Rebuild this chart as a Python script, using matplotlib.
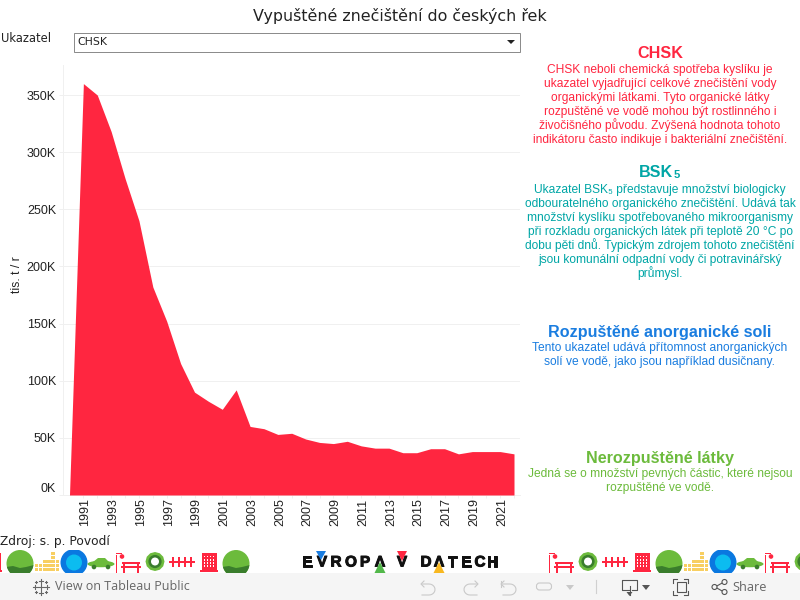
import matplotlib
matplotlib.use("Agg")
import matplotlib.pyplot as plt
from matplotlib.patches import Circle, Rectangle, Polygon, FancyBboxPatch, Ellipse, RegularPolygon
from matplotlib.transforms import ScaledTranslation
import matplotlib.patheffects as pe
import numpy as np

years = list(range(1990, 2023))
values = [0, 360, 350, 318, 277, 240, 182, 152, 115, 90, 82, 75, 92, 60, 58, 53, 54,
          49, 46, 45, 47, 43, 41, 41, 37, 37, 40.5, 40.5, 36, 38, 38, 38, 36]
y_ticks = [0, 50, 100, 150, 200, 250, 300, 350]
x_labels = list(range(1991, 2022, 2))

title = "Vypuštěné znečištění do českých řek"
source = "Zdroj: s. p. Povodí"
chsk_lines = ["CHSK neboli chemická spotřeba kyslíku je",
              "ukazatel vyjadřující celkové znečištění vody",
              "organickými látkami. Tyto organické látky",
              "rozpuštěné ve vodě mohou být rostlinného i",
              "živočišného původu. Zvýšená hodnota tohoto",
              "indikátoru často indikuje i bakteriální znečištění."]
bsk_lines = ["Ukazatel BSK₅ představuje množství biologicky",
             "odbouratelného organického znečištění. Udává tak",
             "množství kyslíku spotřebovaného mikroorganismy",
             "při rozkladu organických látek při teplotě 20 °C po",
             "dobu pěti dnů. Typickým zdrojem tohoto znečištění",
             "jsou komunální odpadní vody či potravinářský",
             "průmysl."]
soli_lines = ["Tento ukazatel udává přítomnost anorganických",
              "solí ve vodě, jako jsou například dusičnany."]
nerozp_lines = ["Jedná se o množství pevných částic, které nejsou",
                "rozpuštěné ve vodě."]

RED = "#ff2640"
TEAL = "#00a6a6"
BLUE = "#1a7de0"
GREEN = "#6cbb3c"
DARKGREEN = "#3a7d2c"
YELLOW = "#f8cf62"
SANS = ["Liberation Sans", "DejaVu Sans"]
VERD = ["DejaVu Sans"]

fig = plt.figure(figsize=(8, 6), dpi=100)

# overlay in pixels for everything that is not the chart
bg = fig.add_axes([0, 0, 1, 1])
bg.set_xlim(0, 800)
bg.set_ylim(600, 0)
bg.axis("off")

# chart axes: x 63-520 px, y 65-495 px
ax = fig.add_axes([63 / 800, 1 - 495 / 600, (520 - 63) / 800, (495 - 65) / 600])
ax.patch.set_alpha(0)
px_year = (500 - 83) / 30
ax.set_xlim(1990 - (69.5 - 63) / px_year, 2022 + (520 - 514) / px_year)
ax.set_ylim(0, 430 / 57.14 * 50)
ax.fill_between(years, values, 0, color=RED, linewidth=0, zorder=3)
ax.set_yticks(y_ticks)
ax.set_yticklabels([f"{v}K" for v in y_ticks], family=SANS, fontsize=9, color="#222222")
ax.set_xticks(years[1:], minor=False)
ax.set_xticklabels([str(y) if y in x_labels else "" for y in years[1:]], rotation=90,
                   family=SANS, fontsize=9, color="#222222")
ax.grid(axis="y", color="#f0f0f0", linewidth=0.72, zorder=0)
ax.tick_params(axis="y", length=3, width=0.72, color="#f0f0f0", pad=2)
ax.tick_params(axis="x", length=2, width=0.72, color="#f0f0f0", pad=0.5)
for s in ["top", "right"]:
    ax.spines[s].set_visible(False)
ax.spines["left"].set_color("#f0f0f0")
ax.spines["bottom"].set_color("#f0f0f0")
ax.spines["left"].set_linewidth(0.72)
ax.spines["bottom"].set_linewidth(0.72)
ax.set_ylabel("tis. t / r", family=SANS, fontsize=8.8, color="#222222")
ax.yaxis.set_label_coords(-40 / 457, (495 - 275) / 430)

# 0K sits above its tick in the original, x labels a bit to the right
lab0 = ax.get_yticklabels()[0]
lab0.set_transform(lab0.get_transform() + ScaledTranslation(0, 7 / 100, fig.dpi_scale_trans))
for lab in ax.get_xticklabels():
    lab.set_transform(lab.get_transform() + ScaledTranslation(2 / 100, 0, fig.dpi_scale_trans))

# title + filter
bg.text(400, 16, title, ha="center", va="center", family=VERD, fontsize=11.45, color="#222222")
bg.text(0.5, 38, "Ukazatel", ha="left", va="center", family=VERD, fontsize=8.3, color="#222222")
bg.add_patch(Rectangle((73.5, 32.5), 446, 19, fc="white", ec="#8c8c8c", lw=0.72))
bg.text(77, 42, "CHSK", ha="left", va="center", family=VERD, fontsize=7.8, color="#222222")
bg.add_patch(Polygon([(507, 40), (515, 40), (511, 44)], fc="#222222", ec="none"))
bg.text(0.5, 542, source, ha="left", va="center", family=VERD, fontsize=8.8, color="#222222")

# text panels on the right
def panel(head, y_head, lines, ys, col):
    bg.text(660, y_head, head, ha="center", va="center", family=SANS, weight="bold",
            fontsize=11.6, color=col)
    for line, y in zip(lines, ys):
        bg.text(660, y + 1.5, line, ha="center", va="center", family=SANS, fontsize=8.67, color=col)

panel("CHSK", 53.5, chsk_lines, [68, 82, 96, 110, 124, 139], RED)
bg.text(673, 172.5, "BSK", ha="right", va="center", family=SANS, weight="bold", fontsize=11.6, color=TEAL)
bg.text(674, 175, "5", ha="left", va="center", family=SANS, weight="bold", fontsize=8, color=TEAL)
panel("", 172, bsk_lines, [188, 202, 216, 230, 244, 258, 272], TEAL)
panel("Rozpuštěné anorganické soli", 332.5, soli_lines, [347, 361], BLUE)
panel("Nerozpuštěné látky", 458.5, nerozp_lines, [473, 487], GREEN)

# icon strip
strip = Rectangle((0, 550), 800, 23, transform=bg.transData)

def clipped(p):
    bg.add_patch(p)
    p.set_clip_path(strip)

def ball(cx):
    clipped(Circle((cx, 563.5), 13.5, fc=GREEN, ec="none"))
    low = Polygon([(cx - 14, 567), (cx - 7, 566), (cx, 568), (cx + 6, 567), (cx + 14, 565),
                   (cx + 14, 578), (cx - 14, 578)], fc=DARKGREEN, ec="none")
    bg.add_patch(low)
    low.set_clip_path(Circle((cx, 563.5), 13.5, transform=bg.transData))

def bars(cx):
    for i, h in enumerate([2, 2, 3, 3, 5, 3]):
        for j in range(h):
            clipped(Rectangle((cx - 12.5 + i * 4.2, 567.5 - j * 3.9), 3.7, 3.4, fc=YELLOW, ec="none"))

def water(cx):
    clipped(Circle((cx, 562.5), 13.5, fc="#0a78e0", ec="none"))
    clipped(Circle((cx, 562.5), 8, fc="#0cbcf0", ec="none"))

def car(cx):
    clipped(Ellipse((cx, 564), 27, 6.5, fc=GREEN, ec="none"))
    clipped(Polygon([(cx - 8, 562), (cx - 3, 558), (cx + 4, 558), (cx + 8, 562)], fc=GREEN, ec="none"))
    clipped(Circle((cx - 7, 567), 2.3, fc=DARKGREEN, ec="none"))
    clipped(Circle((cx + 7, 567), 2.3, fc=DARKGREEN, ec="none"))

def bench(cx):
    clipped(Rectangle((cx - 12.5, 555), 1.6, 18, fc=RED, ec="none"))
    clipped(Rectangle((cx - 12.5, 553), 6, 1.4, fc=RED, ec="none"))
    clipped(Circle((cx - 6, 556.5), 2.3, fc=RED, ec="none"))
    clipped(Rectangle((cx - 6, 562), 18, 2, fc=RED, ec="none"))
    clipped(Rectangle((cx - 7, 566), 20, 2, fc=RED, ec="none"))
    clipped(Rectangle((cx - 5, 562), 1.6, 11, fc=RED, ec="none"))
    clipped(Rectangle((cx + 9, 562), 1.6, 11, fc=RED, ec="none"))

def gear(cx):
    clipped(RegularPolygon((cx, 561.5), 12, radius=9.5, fc=GREEN, ec="none"))
    clipped(Circle((cx, 561.5), 6.6, fc=DARKGREEN, ec="none"))
    clipped(Circle((cx, 561.5), 4, fc="white", ec="none"))

def fence(cx):
    clipped(Rectangle((cx - 13, 561), 26, 2, fc=RED, ec="none"))
    for dx in [-9, -3, 3, 9]:
        clipped(Polygon([(cx + dx - 1.2, 557), (cx + dx + 1.2, 557), (cx + dx + 1.2, 566.5),
                         (cx + dx - 1.2, 566.5)], fc=RED, ec="none"))

def building(cx):
    clipped(Rectangle((cx - 7.5, 553), 15, 18, fc=RED, ec="none"))
    clipped(Rectangle((cx - 9, 570), 18, 2, fc=RED, ec="none"))
    for i in range(4):
        for j in range(4):
            clipped(Rectangle((cx - 5.5 + i * 3, 555.5 + j * 3.2), 1.6, 1.8, fc="white", ec="none"))

order = [ball, bars, water, car, bench, gear, fence, building]
for k in range(8 + 1):
    order[k % 8](20 + 27 * k)
building(-7)
for k in range(4, 14):
    order[k % 8](561 + 27 * (k - 4))

# logo
for ch, x in zip("EVROPAVDATECH", [307, 322, 336, 351, 365, 380, 402, 426, 439, 452, 466, 480, 492]):
    bg.text(x, 562.5, ch if ch != "A" else "Λ", ha="center", va="center", family=SANS, weight="bold",
            fontsize=11, color="#111111", path_effects=[pe.withStroke(linewidth=0.7, foreground="#111111")])
bg.add_patch(Polygon([(316, 551), (326, 551), (321, 560)], fc="#1a7de0", ec="none", zorder=5))
bg.add_patch(Polygon([(374.5, 573), (385.5, 573), (380, 562)], fc="#52b84a", ec="none", zorder=5))
bg.add_patch(Polygon([(397, 551), (407, 551), (402, 561)], fc=RED, ec="none", zorder=5))
bg.add_patch(Polygon([(433.5, 573), (444.5, 573), (439, 562)], fc="#f8b820", ec="none", zorder=5))

# toolbar
bg.add_patch(Rectangle((0, 573), 800, 27, fc="#f5f5f5", ec="none", zorder=4))
bg.text(55, 587, "View on Tableau Public", ha="left", va="center", family=["Open Sans", "DejaVu Sans"],
        fontsize=9, color="#666666", zorder=6)
bg.text(732, 587.5, "Share", ha="left", va="center", family=["Open Sans", "DejaVu Sans"],
        fontsize=9.2, color="#666666", zorder=6)

def tool_line(xs, ys, col="#c9c9c9"):
    bg.plot(xs, ys, color=col, lw=0.8, zorder=6)

# tableau mark
for dx, dy, s in [(0, 0, 2.8), (-6, 0, 2), (6, 0, 2), (0, -6, 2), (0, 6, 2), (-5, -5, 1.4), (5, -5, 1.4), (-5, 5, 1.4), (5, 5, 1.4)]:
    tool_line([41 + dx - s, 41 + dx + s], [587 + dy, 587 + dy], "#666666")
    tool_line([41 + dx, 41 + dx], [587 + dy - s, 587 + dy + s], "#666666")

# undo / redo / revert / refresh
t = np.linspace(-np.pi / 2, np.pi / 2, 12)
tool_line([422, *(429 + 6 * np.cos(t)), 422], [584, *(589.5 + 5.5 * np.sin(t)), 595])
tool_line([424, 421, 424], [581, 584, 587])
tool_line([477, *(470 - 6 * np.cos(t)), 477], [584, *(589.5 + 5.5 * np.sin(t)), 595])
tool_line([475, 478, 475], [581, 584, 587])
tool_line([502, *(510 + 6 * np.cos(t)), 503], [584, *(589.5 + 5.5 * np.sin(t)), 595])
tool_line([504, 501, 504], [581, 584, 587])
tool_line([501, 501], [581, 587])
bg.add_patch(FancyBboxPatch((536.5, 583), 15, 7, boxstyle="round,pad=0,rounding_size=3", fc="none", ec="#c9c9c9", lw=0.8, zorder=6))
bg.add_patch(Polygon([(566, 585), (574, 585), (570, 590)], fc="#c9c9c9", ec="none", zorder=6))
tool_line([595.5, 595.5], [580, 593], "#d0d0d0")
# download
tool_line([630, 622, 622, 637, 637, 632], [590, 590, 580, 580, 590, 590], "#555555")
tool_line([629.5, 629.5], [586, 595], "#555555")
bg.add_patch(Polygon([(626.5, 592), (632.5, 592), (629.5, 596)], fc="#555555", ec="none", zorder=6))
bg.add_patch(Polygon([(642, 585), (650, 585), (646, 590)], fc="#555555", ec="none", zorder=6))
# fullscreen
bg.add_patch(Rectangle((676.5, 582), 9, 10, fc="none", ec="#555555", lw=0.8, zorder=6))
for x, y, dx, dy in [(673, 579, 1, 1), (688, 579, -1, 1), (673, 595, 1, -1), (688, 595, -1, -1)]:
    tool_line([x, x, x + 4 * dx], [y + 4 * dy, y, y], "#555555")
# share
tool_line([724, 715, 724], [582, 587, 592], "#555555")
for x, y in [(724.5, 582), (714.5, 587), (724.5, 592)]:
    bg.add_patch(Circle((x, y), 2.5, fc="#f5f5f5", ec="#555555", lw=0.8, zorder=7))

bg.set_xlim(0, 800)
bg.set_ylim(600, 0)
fig.savefig("out.png", dpi=100, facecolor="white")
